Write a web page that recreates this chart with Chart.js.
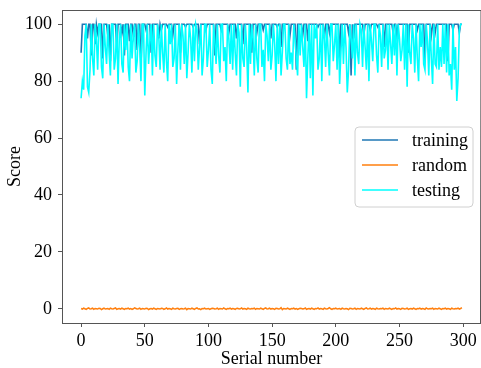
<!DOCTYPE html>
<html lang="en">
<head>
  <meta charset="UTF-8" />
  <title>Score vs serial number</title>
  <script src="https://cdn.jsdelivr.net/npm/chart.js"></script>
  <style>
    body { margin: 0; background: #fff; }
    .chart-wrapper { width: 481px; height: 368px; position: relative; }
  </style>
</head>
<body>

<div class="chart-wrapper">
  <canvas id="scoreChart"></canvas>
</div>

<script>
const seriesNames = ["training", "random", "testing"];
const xTicks = [0, 50, 100, 150, 200, 250, 300];
const yTicks = [0, 20, 40, 60, 80, 100];

const training = [
  90, 100, 100, 100, 100, 95, 100, 100, 89, 100, 100, 93, 100, 97, 100, 100, 100, 88, 100, 100,
  100, 96, 100, 87, 100, 100, 100, 100, 92, 100, 100, 100, 97, 100, 89, 100, 100, 100, 94, 100,
  100, 96, 100, 100, 91, 100, 100, 85, 100, 100, 100, 98, 100, 100, 100, 90, 100, 100, 100, 100,
  100, 95, 100, 98, 100, 100, 100, 100, 99, 100, 100, 100, 96, 100, 100, 100, 100, 100, 90, 100,
  100, 100, 99, 100, 100, 100, 100, 100, 99, 100, 100, 100, 100, 93, 100, 100, 100, 100, 98, 100,
  100, 100, 100, 100, 100, 89, 100, 100, 100, 100, 98, 100, 100, 100, 100, 100, 97, 100, 100, 100,
  100, 100, 95, 100, 100, 100, 100, 93, 100, 100, 100, 100, 100, 100, 90, 100, 100, 100, 97, 100,
  100, 100, 100, 98, 100, 100, 100, 100, 100, 95, 100, 100, 100, 100, 99, 100, 100, 92, 100, 100,
  100, 100, 100, 100, 96, 100, 100, 100, 100, 84, 100, 100, 100, 100, 96, 100, 100, 100, 94, 100,
  100, 100, 100, 100, 100, 100, 99, 100, 100, 100, 100, 95, 100, 100, 100, 97, 100, 100, 100, 100,
  100, 100, 100, 88, 100, 100, 100, 100, 100, 100, 97, 100, 82, 100, 95, 100, 100, 100, 100, 100,
  100, 100, 96, 100, 100, 100, 100, 98, 100, 100, 100, 100, 100, 99, 100, 100, 100, 100, 92, 100,
  100, 100, 100, 100, 100, 97, 100, 100, 96, 100, 100, 100, 100, 100, 100, 100, 100, 90, 100, 100,
  100, 100, 100, 100, 98, 100, 100, 100, 100, 100, 87, 100, 100, 100, 100, 96, 100, 100, 97, 100,
  100, 100, 100, 100, 100, 100, 100, 100, 87, 100, 100, 100, 98, 100, 100, 100, 100, 97, 100, 100
];

const random = [
  0.1, -0.1, 0.2, 0.0, -0.2, 0.1, 0.3, -0.1, 0.0, 0.2, -0.2, 0.1, 0.0, -0.1, 0.2, 0.1, -0.3, 0.0, 0.2, -0.1,
  0.0, 0.1, -0.2, 0.2, 0.0, -0.1, 0.1, 0.3, -0.2, 0.0, 0.1, -0.1, 0.2, 0.0, -0.2, 0.1, 0.0, 0.2, -0.1, 0.1,
  -0.2, 0.0, 0.3, 0.1, -0.1, 0.0, 0.2, -0.2, 0.1, 0.0, -0.1, 0.2, 0.1, -0.3, 0.0, 0.1, -0.1, 0.2, 0.0, -0.2,
  0.1, 0.0, -0.1, 0.2, 0.1, -0.2, 0.0, 0.3, -0.1, 0.1, 0.0, -0.2, 0.2, 0.0, -0.1, 0.1, 0.2, -0.2, 0.0, 0.1,
  -0.1, 0.0, 0.2, -0.3, 0.1, 0.0, -0.1, 0.2, 0.0, -0.2, 0.1, 0.3, -0.1, 0.0, -0.3, 0.1, 0.0, 0.2, -0.1, 0.0,
  0.1, -0.2, 0.0, 0.2, 0.1, -0.1, 0.0, 0.2, -0.2, 0.1, 0.0, -0.1, 0.3, 0.0, -0.2, 0.1, 0.0, 0.2, -0.1, 0.1,
  0.0, -0.2, 0.1, 0.2, -0.1, 0.0, 0.3, -0.1, 0.1, 0.0, -0.2, 0.2, 0.0, -0.1, 0.1, 0.0, 0.2, -0.2, 0.1, 0.0,
  -0.1, 0.2, 0.0, -0.2, 0.1, 0.3, -0.1, 0.0, 0.2, -0.1, 0.1, 0.0, -0.2, 0.2, 0.1, -0.1, 0.0, 0.4, -0.3, 0.1,
  0.0, -0.1, 0.2, 0.0, -0.2, 0.1, 0.0, 0.2, -0.1, 0.1, -0.2, 0.0, 0.2, 0.1, -0.1, 0.0, 0.3, -0.2, 0.0, 0.1,
  -0.1, 0.2, 0.0, -0.2, 0.1, 0.0, 0.3, -0.1, 0.1, 0.0, -0.2, 0.2, 0.0, -0.1, 0.1, 0.4, 0.0, -0.2, 0.1, 0.0,
  0.2, -0.1, 0.0, 0.1, -0.2, 0.2, 0.0, -0.1, 0.1, 0.0, -0.3, 0.2, 0.1, -0.1, 0.0, 0.2, -0.2, 0.1, 0.0, -0.1,
  0.2, 0.0, -0.2, 0.1, 0.3, -0.1, 0.0, 0.2, -0.1, 0.1, 0.0, -0.2, 0.2, 0.0, -0.1, 0.1, 0.0, 0.2, -0.2, 0.1,
  0.0, -0.1, 0.2, 0.0, -0.2, 0.1, 0.0, 0.3, -0.1, 0.1, 0.0, -0.2, 0.2, 0.1, -0.1, 0.0, 0.2, -0.2, 0.0, 0.1,
  -0.1, 0.2, 0.0, -0.2, 0.1, 0.0, 0.2, -0.1, 0.1, 0.0, -0.2, 0.3, 0.0, -0.1, 0.1, 0.0, 0.2, -0.2, 0.1, 0.0,
  -0.1, 0.2, 0.0, -0.2, 0.1, 0.0, 0.2, -0.1, 0.1, 0.0, -0.2, 0.2, 0.0, -0.1, 0.1, 0.0, 0.2, -0.1, 0.1, 0.4
];

const testing = [
  74, 80, 77, 96, 100, 78, 76, 84, 100, 88, 82, 100, 95, 84, 100, 100, 85, 81, 100, 92,
  86, 100, 90, 82, 100, 100, 84, 88, 100, 79, 95, 100, 86, 83, 100, 91, 100, 85, 80, 100,
  88, 96, 100, 83, 87, 100, 92, 80, 100, 100, 75, 90, 100, 86, 94, 100, 82, 100, 89, 85,
  100, 96, 84, 100, 90, 83, 100, 87, 80, 100, 93, 100, 85, 88, 100, 79, 91, 100, 84, 100,
  96, 86, 100, 81, 90, 100, 95, 83, 100, 87, 100, 98, 84, 92, 100, 82, 88, 100, 100, 85,
  91, 100, 84, 79, 100, 94, 86, 100, 89, 83, 100, 100, 87, 92, 80, 100, 95, 86, 100, 84,
  100, 90, 82, 100, 97, 78, 100, 88, 85, 100, 92, 76, 100, 86, 100, 95, 82, 100, 88, 83,
  100, 100, 85, 91, 80, 100, 96, 87, 100, 84, 89, 100, 93, 80, 100, 86, 100, 82, 90, 100,
  100, 88, 84, 100, 86, 90, 84, 100, 95, 88, 82, 100, 89, 100, 92, 85, 100, 74, 88, 100,
  81, 100, 75, 100, 95, 100, 84, 88, 100, 80, 100, 96, 85, 100, 90, 82, 100, 100, 87, 93,
  100, 84, 100, 79, 90, 100, 86, 100, 92, 76, 84, 100, 95, 88, 100, 82, 100, 90, 86, 100,
  98, 85, 100, 92, 84, 100, 80, 100, 94, 87, 100, 100, 89, 83, 100, 96, 85, 100, 88, 91,
  100, 84, 100, 93, 86, 100, 89, 100, 82, 100, 95, 87, 91, 100, 84, 100, 78, 100, 90, 86,
  100, 95, 83, 100, 88, 80, 100, 92, 100, 86, 84, 100, 94, 82, 100, 88, 79, 100, 86, 85,
  100, 84, 92, 85, 100, 86, 100, 83, 100, 82, 86, 77, 100, 84, 92, 73, 81, 98, 100, 100
];

const serial = training.map((_, i) => i);
const toPoints = arr => arr.map((v, i) => ({ x: serial[i], y: v }));

const colors = ["#1f77b4", "#ff7f0e", "#00ffff"];
const FONT = "'Liberation Serif', 'DejaVu Serif', serif";

// top/right spines + legend box drawn by hand
const framePlugin = {
  id: "frame",
  afterDraw(chart) {
    const { ctx, chartArea: a } = chart;
    ctx.save();
    ctx.strokeStyle = "#555";
    ctx.lineWidth = 1;
    ctx.beginPath();
    ctx.moveTo(a.left, a.top + 0.5);
    ctx.lineTo(a.right, a.top + 0.5);
    ctx.lineTo(a.right - 0.5, a.bottom);
    ctx.stroke();

    // legend
    const bx = 355, by = 127, bw = 118, bh = 80, r = 4;
    ctx.beginPath();
    ctx.moveTo(bx + r, by);
    ctx.arcTo(bx + bw, by, bx + bw, by + bh, r);
    ctx.arcTo(bx + bw, by + bh, bx, by + bh, r);
    ctx.arcTo(bx, by + bh, bx, by, r);
    ctx.arcTo(bx, by, bx + bw, by, r);
    ctx.closePath();
    ctx.fillStyle = "rgba(255,255,255,0.8)";
    ctx.fill();
    ctx.strokeStyle = "#d0d0d0";
    ctx.stroke();

    ctx.font = "18px " + FONT;
    ctx.textBaseline = "middle";
    ctx.textAlign = "left";
    seriesNames.forEach((name, i) => {
      const y = 140 + i * 25;
      ctx.strokeStyle = colors[i];
      ctx.lineWidth = 1.5;
      ctx.beginPath();
      ctx.moveTo(362, y);
      ctx.lineTo(398, y);
      ctx.stroke();
      ctx.fillStyle = "#000";
      ctx.fillText(name, 412, y + 1);
    });
    ctx.restore();
  }
};

const ctx = document.getElementById("scoreChart").getContext("2d");
new Chart(ctx, {
  type: "line",
  data: {
    datasets: [
      { label: seriesNames[0], data: toPoints(training), borderColor: colors[0], borderWidth: 1.6, pointRadius: 0, fill: false, tension: 0, order: 2 },
      { label: seriesNames[1], data: toPoints(random), borderColor: colors[1], borderWidth: 1.5, pointRadius: 0, fill: false, tension: 0, order: 1 },
      { label: seriesNames[2], data: toPoints(testing), borderColor: colors[2], borderWidth: 1.6, pointRadius: 0, fill: false, tension: 0, order: 0 }
    ]
  },
  options: {
    responsive: true,
    maintainAspectRatio: false,
    animation: false,
    layout: { padding: { top: 10, right: 0, left: 0, bottom: 0 } },
    plugins: {
      legend: { display: false },
      tooltip: { enabled: false }
    },
    scales: {
      x: {
        type: "linear",
        min: -15,
        max: 314,
        afterBuildTicks: s => { s.ticks = xTicks.map(v => ({ value: v })); },
        afterFit: s => { s.height = 45; s.paddingLeft = 0; s.paddingRight = 0; },
        grid: { drawOnChartArea: false, drawTicks: true, tickLength: 4, tickColor: "#555" },
        border: { color: "#555", width: 1 },
        ticks: { color: "#000", font: { family: FONT, size: 18 }, padding: 3, maxRotation: 0 },
        title: { display: true, text: "Serial number", color: "#000", font: { family: FONT, size: 18, lineHeight: 1 }, padding: 0 }
      },
      y: {
        min: -5,
        max: 105,
        afterBuildTicks: s => { s.ticks = yTicks.map(v => ({ value: v })); },
        afterFit: s => { s.width = 62; s.paddingTop = 0; s.paddingBottom = 0; },
        grid: { drawOnChartArea: false, drawTicks: true, tickLength: 4, tickColor: "#555" },
        border: { color: "#555", width: 1 },
        ticks: { color: "#000", font: { family: FONT, size: 18 }, padding: 6 },
        title: { display: true, text: "Score", color: "#000", font: { family: FONT, size: 18, lineHeight: 1 }, padding: { top: 6 } }
      }
    }
  },
  plugins: [framePlugin]
});
</script>
</body>
</html>
